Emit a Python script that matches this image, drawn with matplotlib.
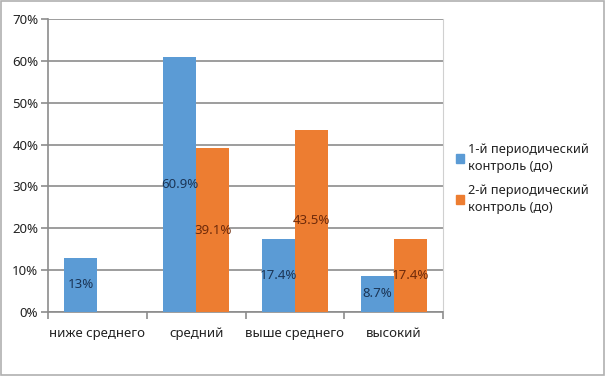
import matplotlib
matplotlib.use("Agg")
import matplotlib.pyplot as plt
from matplotlib.patches import Rectangle
import numpy as np

plt.rcParams['font.family'] = ['Noto Sans', 'DejaVu Sans']

# data
categories = ['ниже среднего', 'средний', 'выше среднего', 'высокий']
series_names = ['1-й периодический\nконтроль (до)', '2-й периодический\nконтроль (до)']
first_ctrl = [13.0, 60.9, 17.4, 8.7]
second_ctrl = [np.nan, 39.1, 43.5, 17.4]
first_labels = ['13%', '60.9%', '17.4%', '8.7%']
second_labels = ['', '39.1%', '43.5%', '17.4%']

blue = '#5B9BD5'
orange = '#ED7D31'
txt = '#222222'

fig = plt.figure(figsize=(6.07, 3.76), dpi=100)
ax = fig.add_axes([48/607, 1-312/376, 395/607, 293/376])

x = np.arange(len(categories))
w = 0.335
b1 = ax.bar(x - w/2, first_ctrl, w, color=blue, zorder=3)
b2 = ax.bar(x + w/2, second_ctrl, w, color=orange, zorder=3)

for rect, lab in zip(b1, first_labels):
    ax.text(rect.get_x() + rect.get_width()/2, rect.get_height()/2, lab,
            ha='center', va='center', fontsize=9.5, color='#1B3556', zorder=4)
for rect, lab in zip(b2, second_labels):
    if lab:
        ax.text(rect.get_x() + rect.get_width()/2, rect.get_height()/2, lab,
                ha='center', va='center', fontsize=9.5, color='#6E2A0A', zorder=4)

ax.set_xlim(-0.5, 3.5)
ax.set_ylim(0, 70)
ax.set_yticks(range(0, 71, 10))
ax.set_yticklabels(['%d%%' % v for v in range(0, 71, 10)])
ax.yaxis.grid(True, color='#8c8c8c', linewidth=1.2, zorder=0)

ax.set_xticks(x)
ax.set_xticklabels(categories)
ax.tick_params(axis='x', length=0, pad=11, labelsize=9.5, labelcolor=txt)
ax.set_xticks(np.arange(-0.5, 4, 1), minor=True)
ax.tick_params(axis='x', which='minor', length=5, color='#8c8c8c', width=1.2)
ax.tick_params(axis='y', length=5, color='#8c8c8c', width=1.2, labelsize=9.5,
               labelcolor=txt, pad=2)

ax.spines['top'].set_visible(False)
ax.spines['right'].set_color('#d0d0d0')
ax.spines['left'].set_color('#8c8c8c')
ax.spines['bottom'].set_color('#8c8c8c')
ax.spines['left'].set_linewidth(1.2)
ax.spines['bottom'].set_linewidth(1.2)

# legend
colors = [blue, orange]
text_y = [158/376, 199/376]
for name, c, ty in zip(series_names, colors, text_y):
    fig.patches.append(Rectangle((456/607, 1 - (ty*376 + 5)/376), 8/607, 9/376,
                                 transform=fig.transFigure, color=c))
    fig.text(468/607, 1 - ty, name, fontsize=9.2, color=txt, va='center',
             ha='left', linespacing=1.45)

# outer frame
fig.patches.append(Rectangle((0.002, 0.003), 0.993, 0.994, transform=fig.transFigure,
                             fill=False, edgecolor='#b0b0b0', linewidth=1.2))

fig.savefig('out.png', dpi=100)
